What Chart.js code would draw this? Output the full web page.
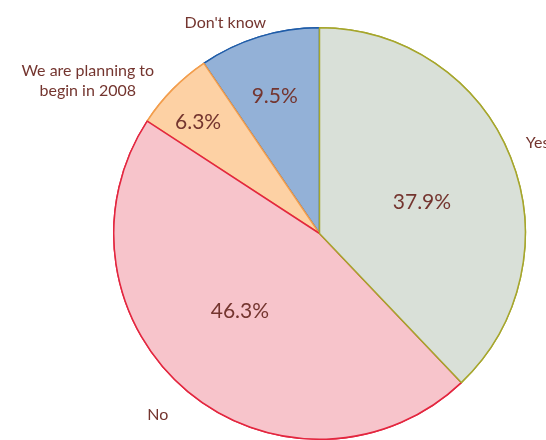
<!DOCTYPE html>
<html>
<head>
<meta charset="utf-8">
<script src="https://cdn.jsdelivr.net/npm/chart.js@4"></script>
<style>
  html, body { margin: 0; padding: 0; background: #fff; overflow: hidden; }
  #wrap { width: 546px; height: 440px; }
</style>
</head>
<body>
<div id="wrap"><canvas id="pie" width="546" height="440"></canvas></div>
<script>
// data
const categories = ['Yes', 'No', 'We are planning to\nbegin in 2008', "Don't know"];
const shares = [37.9, 46.3, 6.3, 9.5];

const fills = ['#d9e0d8', '#f7c4cb', '#fdd1a4', '#93b1d7'];
const borders = ['#a6a62c', '#e3263f', '#f29d4c', '#1f5ca8'];
const textColor = '#74352f';
const fontFamily = "Lato, 'Open Sans', sans-serif";

// where each label sits: radius factor + angle nudge (deg) relative to the slice middle
const pctPlace = [[0.52, 5], [0.54, 6], [0.80, -2], [0.70, -1]];
const namePlace = [[1.14, -1, 'left'], [1.18, 2, 'center'], [1.35, -11, 'center'], [1.12, -7, 'center']];

const labelPlugin = {
    id: 'pieLabels',
    afterDatasetsDraw(chart) {
        const ctx = chart.ctx;
        const meta = chart.getDatasetMeta(0);
        // redraw arcs backwards so each slice's own edge ends up on top like the original
        meta.data.slice().reverse().forEach(a => a.draw(ctx));

        ctx.save();
        ctx.fillStyle = textColor;
        ctx.textBaseline = 'middle';
        meta.data.forEach((arc, i) => {
            const p = arc.getProps(['x', 'y', 'startAngle', 'endAngle', 'outerRadius']);
            const mid = (p.startAngle + p.endAngle) / 2;

            let a = mid + pctPlace[i][1] * Math.PI / 180;
            let r = p.outerRadius * pctPlace[i][0];
            ctx.font = '21px ' + fontFamily;
            ctx.textAlign = 'center';
            ctx.fillText(shares[i].toFixed(1) + '%', p.x + r * Math.cos(a), p.y + r * Math.sin(a));

            a = mid + namePlace[i][1] * Math.PI / 180;
            r = p.outerRadius * namePlace[i][0];
            ctx.font = '16px ' + fontFamily;
            ctx.textAlign = namePlace[i][2];
            const lines = categories[i].split('\n');
            let x = p.x + r * Math.cos(a);
            if (namePlace[i][2] === 'left') x -= 10;
            const y0 = p.y + r * Math.sin(a) - (lines.length - 1) * 10;
            lines.forEach((ln, k) => ctx.fillText(ln, x, y0 + k * 20));
        });
        ctx.restore();
    }
};

new Chart(document.getElementById('pie'), {
    type: 'pie',
    data: {
        labels: categories,
        datasets: [{
            data: shares,
            backgroundColor: fills,
            borderColor: borders,
            borderWidth: 1.5,
            hoverOffset: 0
        }]
    },
    options: {
        responsive: false,
        animation: false,
        events: [],
        layout: { padding: { left: 111, right: 18, top: 27, bottom: -4 } },
        plugins: {
            legend: { display: false },
            tooltip: { enabled: false }
        }
    },
    plugins: [labelPlugin]
});
</script>
</body>
</html>
